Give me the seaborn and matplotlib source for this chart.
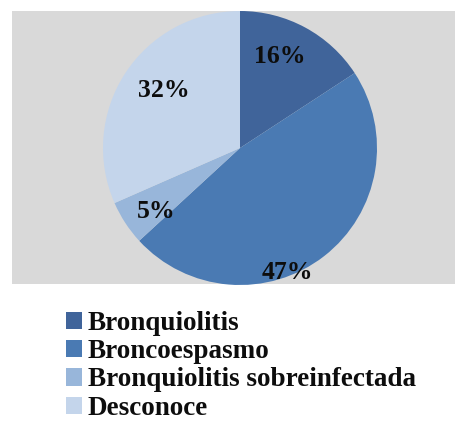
import numpy as np
import matplotlib.pyplot as plt
import matplotlib.patches as mpatches
import seaborn as sns

# Data: counts per diagnosis (n = 19)
categories = ['Bronquiolitis', 'Broncoespasmo', 'Bronquiolitis sobreinfectada', 'Desconoce']
counts = [3, 9, 1, 6]
colors = ['#40649A', '#4A7AB3', '#98B6DA', '#C4D5EB']

sns.set_theme(style='white')
plt.rcParams['font.family'] = ['Liberation Serif', 'DejaVu Serif']
plt.rcParams['text.color'] = '#0d0d0d'

fig = plt.figure(figsize=(4.56, 4.21), dpi=100)
W, H = 456, 421

# pie axes = grey panel
left, top, right, bottom = 12, 11, 456, 284
ax = fig.add_axes([left / W, 1 - bottom / H, (right - left) / W, (bottom - top) / H])

wedges, _ = ax.pie(counts, colors=colors, startangle=90, counterclock=False,
                   radius=1, wedgeprops=dict(linewidth=0))

# percentage labels (placement tweaks to mimic the original's best-fit)
label_r = [0.73, 0.97, 0.77, 0.70]
label_shift = [5, -17, 4, -4]
total = sum(counts)
for w, c, r, s in zip(wedges, counts, label_r, label_shift):
    ang = np.deg2rad((w.theta1 + w.theta2) / 2 + s)
    ax.text(r * np.cos(ang), r * np.sin(ang), f'{100 * c / total:.0f}%',
            ha='center', va='center', fontsize=18.5, fontweight='bold', color='#0d0d0d')

cx, cy, R = 240, 148, 137
ax.set_xlim((left - cx) / R, (right - cx) / R)
ax.set_ylim((cy - bottom) / R, (cy - top) / R)
ax.set_aspect('auto')
ax.set_frame_on(True)
ax.set_facecolor('#D9D9D9')
for sp in ax.spines.values():
    sp.set_visible(False)
ax.set_xticks([])
ax.set_yticks([])

handles = [mpatches.Patch(facecolor=c, edgecolor='none') for c in colors]
fig.legend(handles, categories, loc='upper left', bbox_to_anchor=(66 / W, 1 - 311 / H),
           frameon=False, prop=dict(size=19.5, weight='bold'),
           handlelength=0.6, handleheight=0.6, handletextpad=0.2,
           labelspacing=0.12, borderaxespad=0, borderpad=0)

fig.savefig('out.png', dpi=100)
